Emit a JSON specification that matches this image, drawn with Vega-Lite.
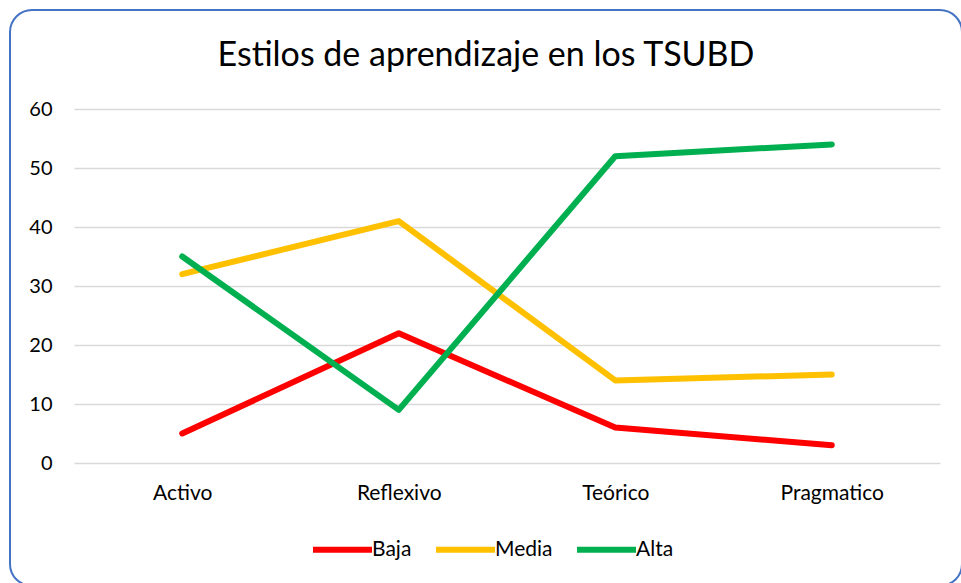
{
  "$schema": "https://vega.github.io/schema/vega-lite/v6.json",
  "width": 952,
  "height": 576,
  "autosize": {"type": "none"},
  "padding": {"left": 10, "top": 10, "right": 0, "bottom": 0},
  "background": "white",
  "title": {
    "text": "Estilos de aprendizaje en los TSUBD",
    "font": "Lato",
    "fontSize": 34,
    "fontWeight": "normal",
    "color": "#000000",
    "anchor": "middle",
    "frame": "group",
    "offset": -90,
    "baseline": "alphabetic"
  },
  "data": {
    "values": [
      {"estilo": "Activo", "nivel": "Baja", "valor": 5},
      {"estilo": "Reflexivo", "nivel": "Baja", "valor": 22},
      {"estilo": "Teórico", "nivel": "Baja", "valor": 6},
      {"estilo": "Pragmatico", "nivel": "Baja", "valor": 3},
      {"estilo": "Activo", "nivel": "Media", "valor": 32},
      {"estilo": "Reflexivo", "nivel": "Media", "valor": 41},
      {"estilo": "Teórico", "nivel": "Media", "valor": 14},
      {"estilo": "Pragmatico", "nivel": "Media", "valor": 15},
      {"estilo": "Activo", "nivel": "Alta", "valor": 35},
      {"estilo": "Reflexivo", "nivel": "Alta", "valor": 9},
      {"estilo": "Teórico", "nivel": "Alta", "valor": 52},
      {"estilo": "Pragmatico", "nivel": "Alta", "valor": 54}
    ]
  },
  "mark": {"type": "line", "strokeWidth": 6, "strokeCap": "round", "strokeJoin": "round"},
  "encoding": {
    "x": {
      "field": "estilo",
      "type": "nominal",
      "sort": ["Activo", "Reflexivo", "Teórico", "Pragmatico"],
      "scale": {"range": [64, 930], "padding": 0.5},
      "axis": {
        "title": null,
        "orient": "bottom",
        "offset": -123,
        "domain": false,
        "ticks": false,
        "grid": false,
        "labelAngle": 0,
        "labelFont": "Lato",
        "labelFontSize": 21,
        "labelColor": "#000000",
        "labelPadding": 30,
        "labelBaseline": "middle"
      }
    },
    "y": {
      "field": "valor",
      "type": "quantitative",
      "scale": {"domain": [0, 60], "range": [453, 99], "nice": false, "zero": true},
      "axis": {
        "title": null,
        "values": [0, 10, 20, 30, 40, 50, 60],
        "offset": -42,
        "domain": false,
        "ticks": false,
        "grid": true,
        "gridColor": "#D9D9D9",
        "gridWidth": 1.5,
        "labelFont": "Lato",
        "labelFontSize": 20,
        "labelColor": "#000000",
        "labelPadding": 0
      }
    },
    "color": {
      "field": "nivel",
      "type": "nominal",
      "sort": ["Baja", "Media", "Alta"],
      "scale": {"domain": ["Baja", "Media", "Alta"], "range": ["#FF0000", "#FFC000", "#00B050"]},
      "legend": {
        "title": null,
        "orient": "none",
        "direction": "horizontal",
        "legendX": 300,
        "legendY": 507,
        "symbolType": "stroke",
        "symbolSize": 3481,
        "symbolStrokeWidth": 6,
        "labelFont": "Lato",
        "labelFontSize": 21,
        "labelColor": "#000000",
        "labelOffset": -3,
        "columnPadding": 12
      }
    }
  },
  "config": {
    "view": {"stroke": "#4472C4", "strokeWidth": 2, "cornerRadius": 22, "fill": "white"}
  }
}
